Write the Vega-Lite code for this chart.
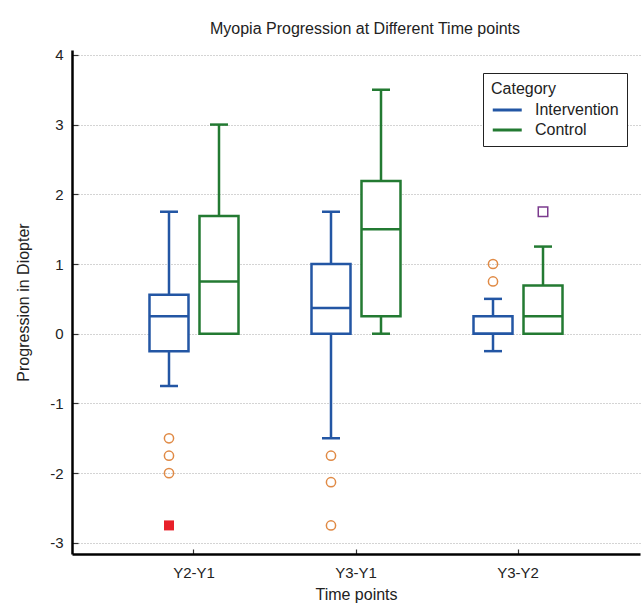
{
  "$schema": "https://vega.github.io/schema/vega-lite/v6.json",
  "width": 568,
  "height": 504,
  "autosize": {"type": "none"},
  "padding": {"left": 72, "top": 50, "right": 4, "bottom": 53},
  "background": "white",
  "title": {
    "text": "Myopia Progression at Different Time points",
    "fontSize": 16,
    "font": "Liberation Sans",
    "fontWeight": "normal",
    "color": "#222222",
    "anchor": "middle",
    "dx": 9,
    "offset": 11
  },
  "config": {
    "font": "Liberation Sans",
    "view": {"stroke": null},
    "axis": {
      "labelFont": "Liberation Sans",
      "titleFont": "Liberation Sans",
      "labelColor": "#222222",
      "titleColor": "#222222",
      "titleFontWeight": "normal",
      "domainColor": "black",
      "domainWidth": 2.5,
      "tickColor": "#333333",
      "tickWidth": 1.2,
      "gridDash": [1, 2],
      "gridColor": "#a8a8a8",
      "gridWidth": 1
    }
  },
  "datasets": {
    "boxes": [
      {"time": "Y2-Y1", "category": "Intervention", "min": -0.75, "q1": -0.25, "median": 0.25, "q3": 0.56, "max": 1.75},
      {"time": "Y2-Y1", "category": "Control", "min": 0, "q1": 0, "median": 0.75, "q3": 1.69, "max": 3.0},
      {"time": "Y3-Y1", "category": "Intervention", "min": -1.5, "q1": 0, "median": 0.37, "q3": 1.0, "max": 1.75},
      {"time": "Y3-Y1", "category": "Control", "min": 0, "q1": 0.25, "median": 1.5, "q3": 2.19, "max": 3.5},
      {"time": "Y3-Y2", "category": "Intervention", "min": -0.25, "q1": 0, "median": 0, "q3": 0.25, "max": 0.5},
      {"time": "Y3-Y2", "category": "Control", "min": 0, "q1": 0, "median": 0.25, "q3": 0.69, "max": 1.25}
    ],
    "outliers": [
      {"time": "Y2-Y1", "category": "Intervention", "value": -1.5, "kind": "outside"},
      {"time": "Y2-Y1", "category": "Intervention", "value": -1.75, "kind": "outside"},
      {"time": "Y2-Y1", "category": "Intervention", "value": -2.0, "kind": "outside"},
      {"time": "Y2-Y1", "category": "Intervention", "value": -2.75, "kind": "far"},
      {"time": "Y3-Y1", "category": "Intervention", "value": -1.75, "kind": "outside"},
      {"time": "Y3-Y1", "category": "Intervention", "value": -2.13, "kind": "outside"},
      {"time": "Y3-Y1", "category": "Intervention", "value": -2.75, "kind": "outside"},
      {"time": "Y3-Y2", "category": "Intervention", "value": 1.0, "kind": "outside"},
      {"time": "Y3-Y2", "category": "Intervention", "value": 0.75, "kind": "outside"},
      {"time": "Y3-Y2", "category": "Control", "value": 1.75, "kind": "control"}
    ]
  },
  "encoding": {
    "x": {
      "field": "time",
      "type": "nominal",
      "sort": ["Y2-Y1", "Y3-Y1", "Y3-Y2"],
      "scale": {"domain": ["Y2-Y1", "Y3-Y1", "Y3-Y2"], "paddingInner": 0, "paddingOuter": 0.253},
      "axis": {
        "title": "Time points",
        "titleFontSize": 16,
        "labelFontSize": 15,
        "labelAngle": 0,
        "tickSize": -5,
        "labelPadding": 16,
        "titlePadding": 6,
        "grid": false
      }
    },
    "xOffset": {
      "field": "category",
      "type": "nominal",
      "sort": ["Intervention", "Control"],
      "scale": {"domain": ["Intervention", "Control"], "paddingInner": 0.22, "paddingOuter": 0.73}
    }
  },
  "layer": [
    {
      "data": {"name": "boxes"},
      "mark": {"type": "rule", "strokeWidth": 2.5, "opacity": 1},
      "encoding": {
        "y": {
          "field": "q3",
          "type": "quantitative",
          "scale": {"domain": [-3.16, 4.07], "nice": false, "zero": false},
          "axis": {
            "title": "Progression in Diopter",
            "titleFontSize": 16,
            "labelFontSize": 15,
            "values": [-3, -2.5, -2, -1.5, -1, -0.5, 0, 0.5, 1, 1.5, 2, 2.5, 3, 3.5, 4],
            "labelExpr": "datum.value % 1 === 0 ? '' + datum.value : ''",
            "tickSize": -6,
            "labelPadding": 15,
            "titlePadding": 18,
            "grid": true,
            "gridOpacity": {"condition": {"test": "datum.value % 1 !== 0", "value": 0}, "value": 1}
          }
        },
        "y2": {"field": "max"},
        "color": {
          "field": "category",
          "type": "nominal",
          "scale": {"domain": ["Intervention", "Control"], "range": ["#2356a4", "#237a32"]},
          "legend": {
            "title": "Category",
            "orient": "none",
            "legendX": 411,
            "legendY": 23,
            "direction": "vertical",
            "symbolType": "M-1,0H3",
            "symbolSize": 210,
            "symbolStrokeWidth": 3,
            "titleFontSize": 16,
            "titleFontWeight": "normal",
            "titleColor": "#222222",
            "labelFontSize": 16,
            "labelColor": "#222222",
            "labelOffset": 26,
            "labelExpr": "datum.label + '\u00a0\u00a0\u00a0\u00a0'",
            "strokeColor": "#222222",
            "fillColor": "white",
            "padding": 8,
            "titlePadding": 4,
            "rowPadding": 3,
            "encode": {"legend": {"update": {"strokeWidth": {"value": 2}}}}
          }
        }
      }
    },
    {
      "data": {"name": "boxes"},
      "mark": {"type": "rule", "strokeWidth": 2.5, "opacity": 1},
      "encoding": {
        "y": {"field": "min", "type": "quantitative"},
        "y2": {"field": "q1"},
        "color": {"field": "category", "type": "nominal"}
      }
    },
    {
      "data": {"name": "boxes"},
      "mark": {"type": "tick", "size": 18, "thickness": 2.5, "opacity": 1},
      "encoding": {
        "y": {"field": "max", "type": "quantitative"},
        "color": {"field": "category", "type": "nominal"}
      }
    },
    {
      "data": {"name": "boxes"},
      "mark": {"type": "tick", "size": 18, "thickness": 2.5, "opacity": 1},
      "encoding": {
        "y": {"field": "min", "type": "quantitative"},
        "color": {"field": "category", "type": "nominal"}
      }
    },
    {
      "data": {"name": "boxes"},
      "mark": {"type": "bar", "fill": "white", "strokeWidth": 2.5, "opacity": 1},
      "encoding": {
        "y": {"field": "q1", "type": "quantitative"},
        "y2": {"field": "q3"},
        "stroke": {
          "field": "category",
          "type": "nominal",
          "scale": {"domain": ["Intervention", "Control"], "range": ["#2356a4", "#237a32"]},
          "legend": null
        }
      }
    },
    {
      "data": {"name": "boxes"},
      "mark": {"type": "tick", "size": 38, "thickness": 2.5, "opacity": 1},
      "encoding": {
        "y": {"field": "median", "type": "quantitative"},
        "color": {"field": "category", "type": "nominal"}
      }
    },
    {
      "data": {"name": "outliers"},
      "transform": [{"filter": "datum.kind === 'outside'"}],
      "mark": {"type": "point", "shape": "circle", "filled": false, "stroke": "#e08a45", "strokeWidth": 1.5, "size": 85, "opacity": 1},
      "encoding": {
        "y": {"field": "value", "type": "quantitative"}
      }
    },
    {
      "data": {"name": "outliers"},
      "transform": [{"filter": "datum.kind === 'far'"}],
      "mark": {"type": "point", "shape": "square", "filled": true, "fill": "#e8202a", "size": 100, "opacity": 1},
      "encoding": {
        "y": {"field": "value", "type": "quantitative"}
      }
    },
    {
      "data": {"name": "outliers"},
      "transform": [{"filter": "datum.kind === 'control'"}],
      "mark": {"type": "point", "shape": "square", "filled": false, "stroke": "#7b3b8e", "strokeWidth": 1.5, "size": 90, "opacity": 1},
      "encoding": {
        "y": {"field": "value", "type": "quantitative"}
      }
    }
  ]
}
